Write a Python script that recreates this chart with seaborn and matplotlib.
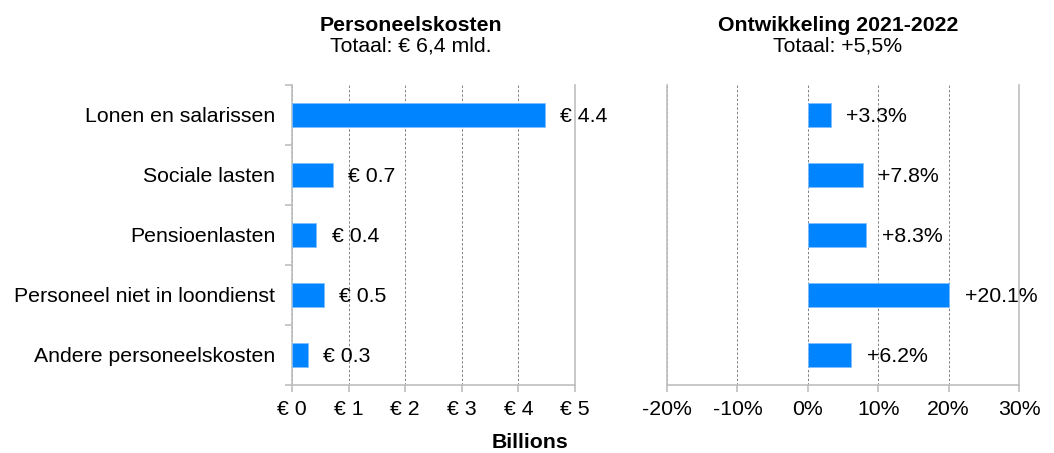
import numpy as np
import pandas as pd
import seaborn as sns
import matplotlib.pyplot as plt
from matplotlib.ticker import FixedLocator

categories = ['Lonen en salarissen', 'Sociale lasten', 'Pensioenlasten',
              'Personeel niet in loondienst', 'Andere personeelskosten']
kosten = [4.47, 0.72, 0.43, 0.56, 0.28]
kosten_labels = ['€ 4.4', '€ 0.7', '€ 0.4', '€ 0.5', '€ 0.3']
groei = [3.3, 7.8, 8.3, 20.1, 6.2]
groei_labels = ['+3.3%', '+7.8%', '+8.3%', '+20.1%', '+6.2%']
kosten_ticks = [0, 1, 2, 3, 4, 5]
groei_ticks = [-20, -10, 0, 10, 20, 30]

sns.set_style('white')
plt.rcParams['font.family'] = ['Liberation Sans', 'DejaVu Sans']
plt.rcParams['text.color'] = 'black'
plt.rcParams['xtick.labelcolor'] = 'black'
plt.rcParams['ytick.labelcolor'] = 'black'
blue = '#0084ff'
spine_col = '#bfbfbf'
fs = 15.3

df = pd.DataFrame({'cat': categories, 'kosten': kosten, 'groei': groei})

W, H = 1054, 453
fig = plt.figure(figsize=(W / 100, H / 100), dpi=100)
ax1 = fig.add_axes([292 / W, (H - 385) / H, (575 - 292) / W, 300 / H])
ax2 = fig.add_axes([667 / W, (H - 385) / H, (1019 - 667) / W, 300 / H])

sns.barplot(data=df, x='kosten', y='cat', orient='h', color=blue, width=0.4,
            saturation=1, edgecolor='#7fbfff', linewidth=0.6, ax=ax1, zorder=3)
sns.barplot(data=df, x='groei', y='cat', orient='h', color=blue, width=0.4,
            saturation=1, edgecolor='#7fbfff', linewidth=0.6, ax=ax2, zorder=3)

for ax, ticks, lab in [(ax1, kosten_ticks, ['€ %d' % t for t in kosten_ticks]),
                       (ax2, groei_ticks, ['%d%%' % t for t in groei_ticks])]:
    ax.set_xlim(ticks[0], ticks[-1])
    ax.set_ylim(4.5, -0.5)
    ax.set_xticks(ticks)
    ax.set_xticklabels(lab, fontsize=fs)
    ax.set_xlabel('')
    ax.set_ylabel('')
    ax.grid(axis='x', color='#808080', linestyle=(0, (2.5, 2)), linewidth=0.7, zorder=0)
    for s in ax.spines.values():
        s.set_color(spine_col)
        s.set_linewidth(1.2)
    ax.spines['top'].set_visible(False)
    ax.tick_params(axis='x', direction='out', length=5, color=spine_col, width=1.2,
                   bottom=True, pad=6)

ax1.yaxis.set_minor_locator(FixedLocator(np.arange(-0.5, 5, 1)))
ax1.tick_params(axis='y', which='major', length=0, labelsize=fs, pad=12)
ax1.tick_params(axis='y', which='minor', length=5, color=spine_col, width=1.2, left=True)
ax2.set_yticklabels([])
ax2.tick_params(axis='y', length=0)

for i, (v, t) in enumerate(zip(kosten, kosten_labels)):
    ax1.annotate(t, (v, i), xytext=(11, 0), textcoords='offset points',
                 va='center_baseline', ha='left', fontsize=fs)
for i, (v, t) in enumerate(zip(groei, groei_labels)):
    ax2.annotate(t, (v, i), xytext=(11, 0), textcoords='offset points',
                 va='center_baseline', ha='left', fontsize=fs)

fig.text(411 / W, 1 - 31 / H, 'Personeelskosten', ha='center', va='baseline',
         fontsize=15.3, fontweight='bold')
fig.text(411 / W, 1 - 51 / H, 'Totaal: € 6,4 mld.', ha='center', va='baseline', fontsize=15.3)
fig.text(838 / W, 1 - 31 / H, 'Ontwikkeling 2021-2022', ha='center', va='baseline',
         fontsize=15.3, fontweight='bold')
fig.text(838 / W, 1 - 51 / H, 'Totaal: +5,5%', ha='center', va='baseline', fontsize=15.3)
fig.text(530 / W, 1 - 443 / H, 'Billions', ha='center', va='center',
         fontsize=15.3, fontweight='bold')

fig.savefig('out.png', dpi=100)
